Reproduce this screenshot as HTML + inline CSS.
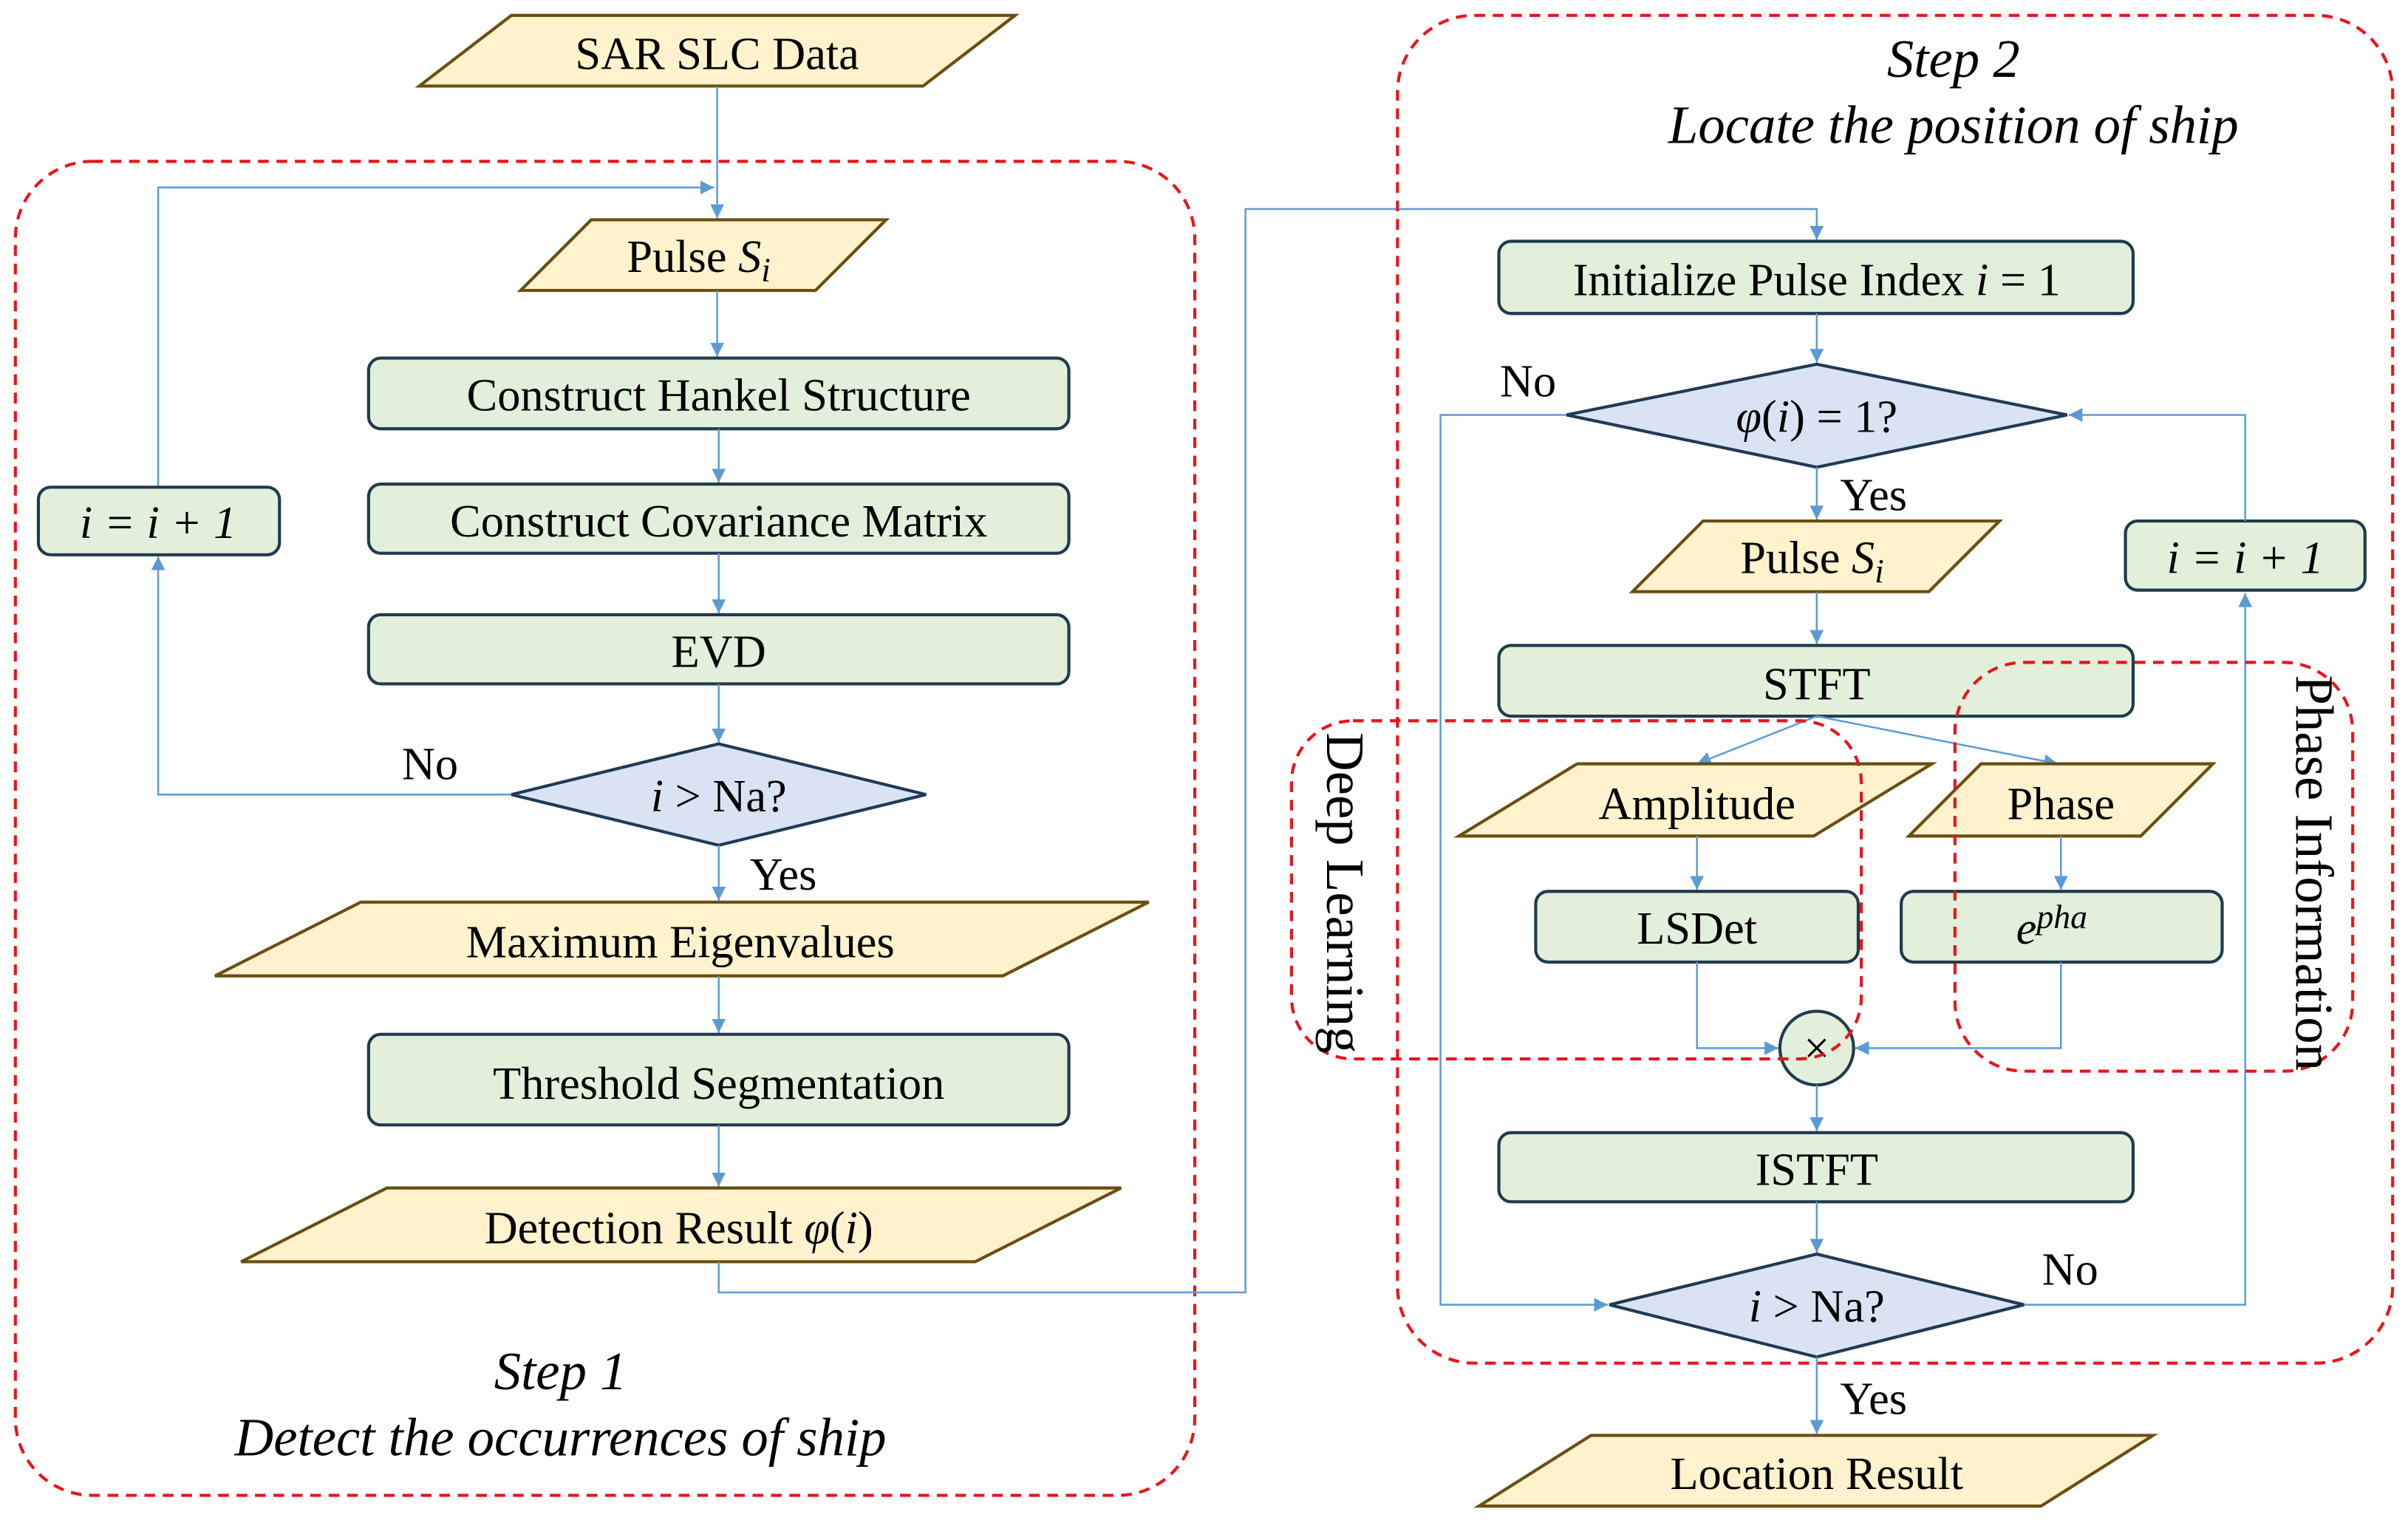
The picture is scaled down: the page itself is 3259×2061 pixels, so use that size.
<!DOCTYPE html>
<html><head><meta charset="utf-8"><style>
html,body{margin:0;padding:0;background:#fff;}
svg{display:block;}
text{font-family:"Liberation Serif",serif;fill:#000;}
.g{fill:#e2efda;stroke:#1f3b4d;stroke-width:2;}
.y{fill:#fff2cc;stroke:#6b4e0f;stroke-width:2;}
.d{fill:#dae3f3;stroke:#1f3b55;stroke-width:2;}
.l{fill:none;stroke:#5b9bd5;stroke-width:1.2;}
.r{fill:none;stroke:#e8151b;stroke-width:2;stroke-dasharray:7,5;}
.s{font-size:35px;font-style:italic;}
</style></head><body>
<svg width="3259" height="2061" viewBox="0 0 1568 991" preserveAspectRatio="none" xmlns="http://www.w3.org/2000/svg">
<defs><marker id="a" viewBox="0 0 10 10" refX="10" refY="5" markerWidth="9" markerHeight="9" orient="auto" markerUnits="userSpaceOnUse"><path d="M0,0L10,5L0,10z" fill="#5b9bd5"/></marker></defs>
<g font-size="30" text-anchor="middle">
<!-- Step 1 -->
<rect class="r" x="10" y="105" width="768" height="868" rx="50"/>
<polygon class="y" points="273,56 333,10 661,10 601,56"/>
<text x="467" y="45">SAR SLC Data</text>
<path class="l" d="M467,56V142" marker-end="url(#a)"/>
<path class="l" d="M103,318V122H465" marker-end="url(#a)"/>
<polygon class="y" points="339,189 385,143 577,143 531,189"/>
<text x="455" y="177">Pulse <tspan font-style="italic">S</tspan><tspan font-style="italic" font-size="22" dy="6">i</tspan></text>
<path class="l" d="M467,189V232" marker-end="url(#a)"/>
<rect class="g" x="240" y="233" width="456" height="46" rx="8"/>
<text x="468" y="267">Construct Hankel Structure</text>
<path class="l" d="M468,279V314" marker-end="url(#a)"/>
<rect class="g" x="240" y="315" width="456" height="45" rx="8"/>
<text x="468" y="349">Construct Covariance Matrix</text>
<path class="l" d="M468,360V399" marker-end="url(#a)"/>
<rect class="g" x="240" y="400" width="456" height="45" rx="8"/>
<text x="468" y="434">EVD</text>
<path class="l" d="M468,445V483" marker-end="url(#a)"/>
<polygon class="d" points="333,517 468,484 603,517 468,550"/>
<text x="468" y="528"><tspan font-style="italic">i</tspan> &gt; Na?</text>
<text x="280" y="507">No</text>
<path class="l" d="M333,517H103V362" marker-end="url(#a)"/>
<rect class="g" x="25" y="317" width="157" height="44" rx="8"/>
<text x="103" y="350" font-style="italic">i = i + 1</text>
<text x="510" y="579">Yes</text>
<path class="l" d="M468,550V586" marker-end="url(#a)"/>
<polygon class="y" points="140,635 235,587 748,587 653,635"/>
<text x="443" y="623">Maximum Eigenvalues</text>
<path class="l" d="M468,635V672" marker-end="url(#a)"/>
<rect class="g" x="240" y="673" width="456" height="59" rx="8"/>
<text x="468" y="715">Threshold Segmentation</text>
<path class="l" d="M468,732V772" marker-end="url(#a)"/>
<polygon class="y" points="157,821 252,773 730,773 635,821"/>
<text x="442" y="809">Detection Result <tspan font-style="italic">φ</tspan>(<tspan font-style="italic">i</tspan>)</text>
<path class="l" d="M468,821V841H811V136H1183V156" marker-end="url(#a)"/>
<text x="365" y="904" class="s">Step 1</text>
<text x="365" y="947" class="s">Detect the occurrences of ship</text>
<!-- Step 2 -->
<rect class="r" x="910" y="10" width="648" height="877" rx="50"/>
<text x="1272" y="50" class="s">Step 2</text>
<text x="1272" y="93" class="s">Locate the position of ship</text>
<rect class="g" x="976" y="157" width="413" height="47" rx="8"/>
<text x="1183" y="192">Initialize Pulse Index <tspan font-style="italic">i</tspan> = 1</text>
<path class="l" d="M1183,204V236" marker-end="url(#a)"/>
<polygon class="d" points="1020,270 1183,237 1346,270 1183,304"/>
<text x="1183" y="281"><tspan font-style="italic">φ</tspan>(<tspan font-style="italic">i</tspan>) = 1?</text>
<text x="995" y="258">No</text>
<path class="l" d="M1020,270H938V849H1047" marker-end="url(#a)"/>
<text x="1220" y="332">Yes</text>
<path class="l" d="M1183,304V338" marker-end="url(#a)"/>
<polygon class="y" points="1063,385 1109,339 1302,339 1256,385"/>
<text x="1180" y="373">Pulse <tspan font-style="italic">S</tspan><tspan font-style="italic" font-size="22" dy="6">i</tspan></text>
<path class="l" d="M1183,385V419" marker-end="url(#a)"/>
<rect class="g" x="976" y="420" width="413" height="46" rx="8"/>
<text x="1183" y="455">STFT</text>
<path class="l" d="M1183,466L1105,497" marker-end="url(#a)"/>
<path class="l" d="M1183,466L1340,497" marker-end="url(#a)"/>
<polygon class="y" points="950,544 1027,497 1258,497 1181,544"/>
<text x="1105" y="533">Amplitude</text>
<polygon class="y" points="1243,544 1290,497 1441,497 1394,544"/>
<text x="1342" y="533">Phase</text>
<path class="l" d="M1105,544V579" marker-end="url(#a)"/>
<path class="l" d="M1342,544V579" marker-end="url(#a)"/>
<rect class="g" x="1000" y="580" width="210" height="46" rx="8"/>
<text x="1105" y="614">LSDet</text>
<rect class="g" x="1238" y="580" width="209" height="46" rx="8"/>
<text x="1336" y="614" font-style="italic">e<tspan font-size="22" dy="-10">pha</tspan></text>
<path class="l" d="M1105,626V682H1158" marker-end="url(#a)"/>
<path class="l" d="M1342,626V682H1208" marker-end="url(#a)"/>
<circle cx="1183" cy="682" r="24" fill="#e2efda" stroke="#1f3b4d" stroke-width="2"/>
<text x="1183" y="692">×</text>
<path class="l" d="M1183,706V736" marker-end="url(#a)"/>
<rect class="g" x="976" y="737" width="413" height="45" rx="8"/>
<text x="1183" y="771">ISTFT</text>
<path class="l" d="M1183,782V815" marker-end="url(#a)"/>
<polygon class="d" points="1048,849 1183,816 1318,849 1183,883"/>
<text x="1183" y="860"><tspan font-style="italic">i</tspan> &gt; Na?</text>
<text x="1348" y="836">No</text>
<path class="l" d="M1318,849H1462V386" marker-end="url(#a)"/>
<rect class="g" x="1384" y="339" width="156" height="45" rx="8"/>
<text x="1462" y="373" font-style="italic">i = i + 1</text>
<path class="l" d="M1462,339V270H1347" marker-end="url(#a)"/>
<text x="1220" y="920">Yes</text>
<path class="l" d="M1183,883V933" marker-end="url(#a)"/>
<polygon class="y" points="963,980 1036,934 1402,934 1329,980"/>
<text x="1183" y="969">Location Result</text>
<!-- groups -->
<rect class="r" x="841" y="469" width="371" height="220" rx="40"/>
<text transform="translate(864,581) rotate(90)" font-size="35">Deep Learning</text>
<rect class="r" x="1273" y="431" width="259" height="266" rx="45"/>
<text transform="translate(1495,568) rotate(90)" font-size="35">Phase Information</text>
</g>
</svg>
</body></html>
